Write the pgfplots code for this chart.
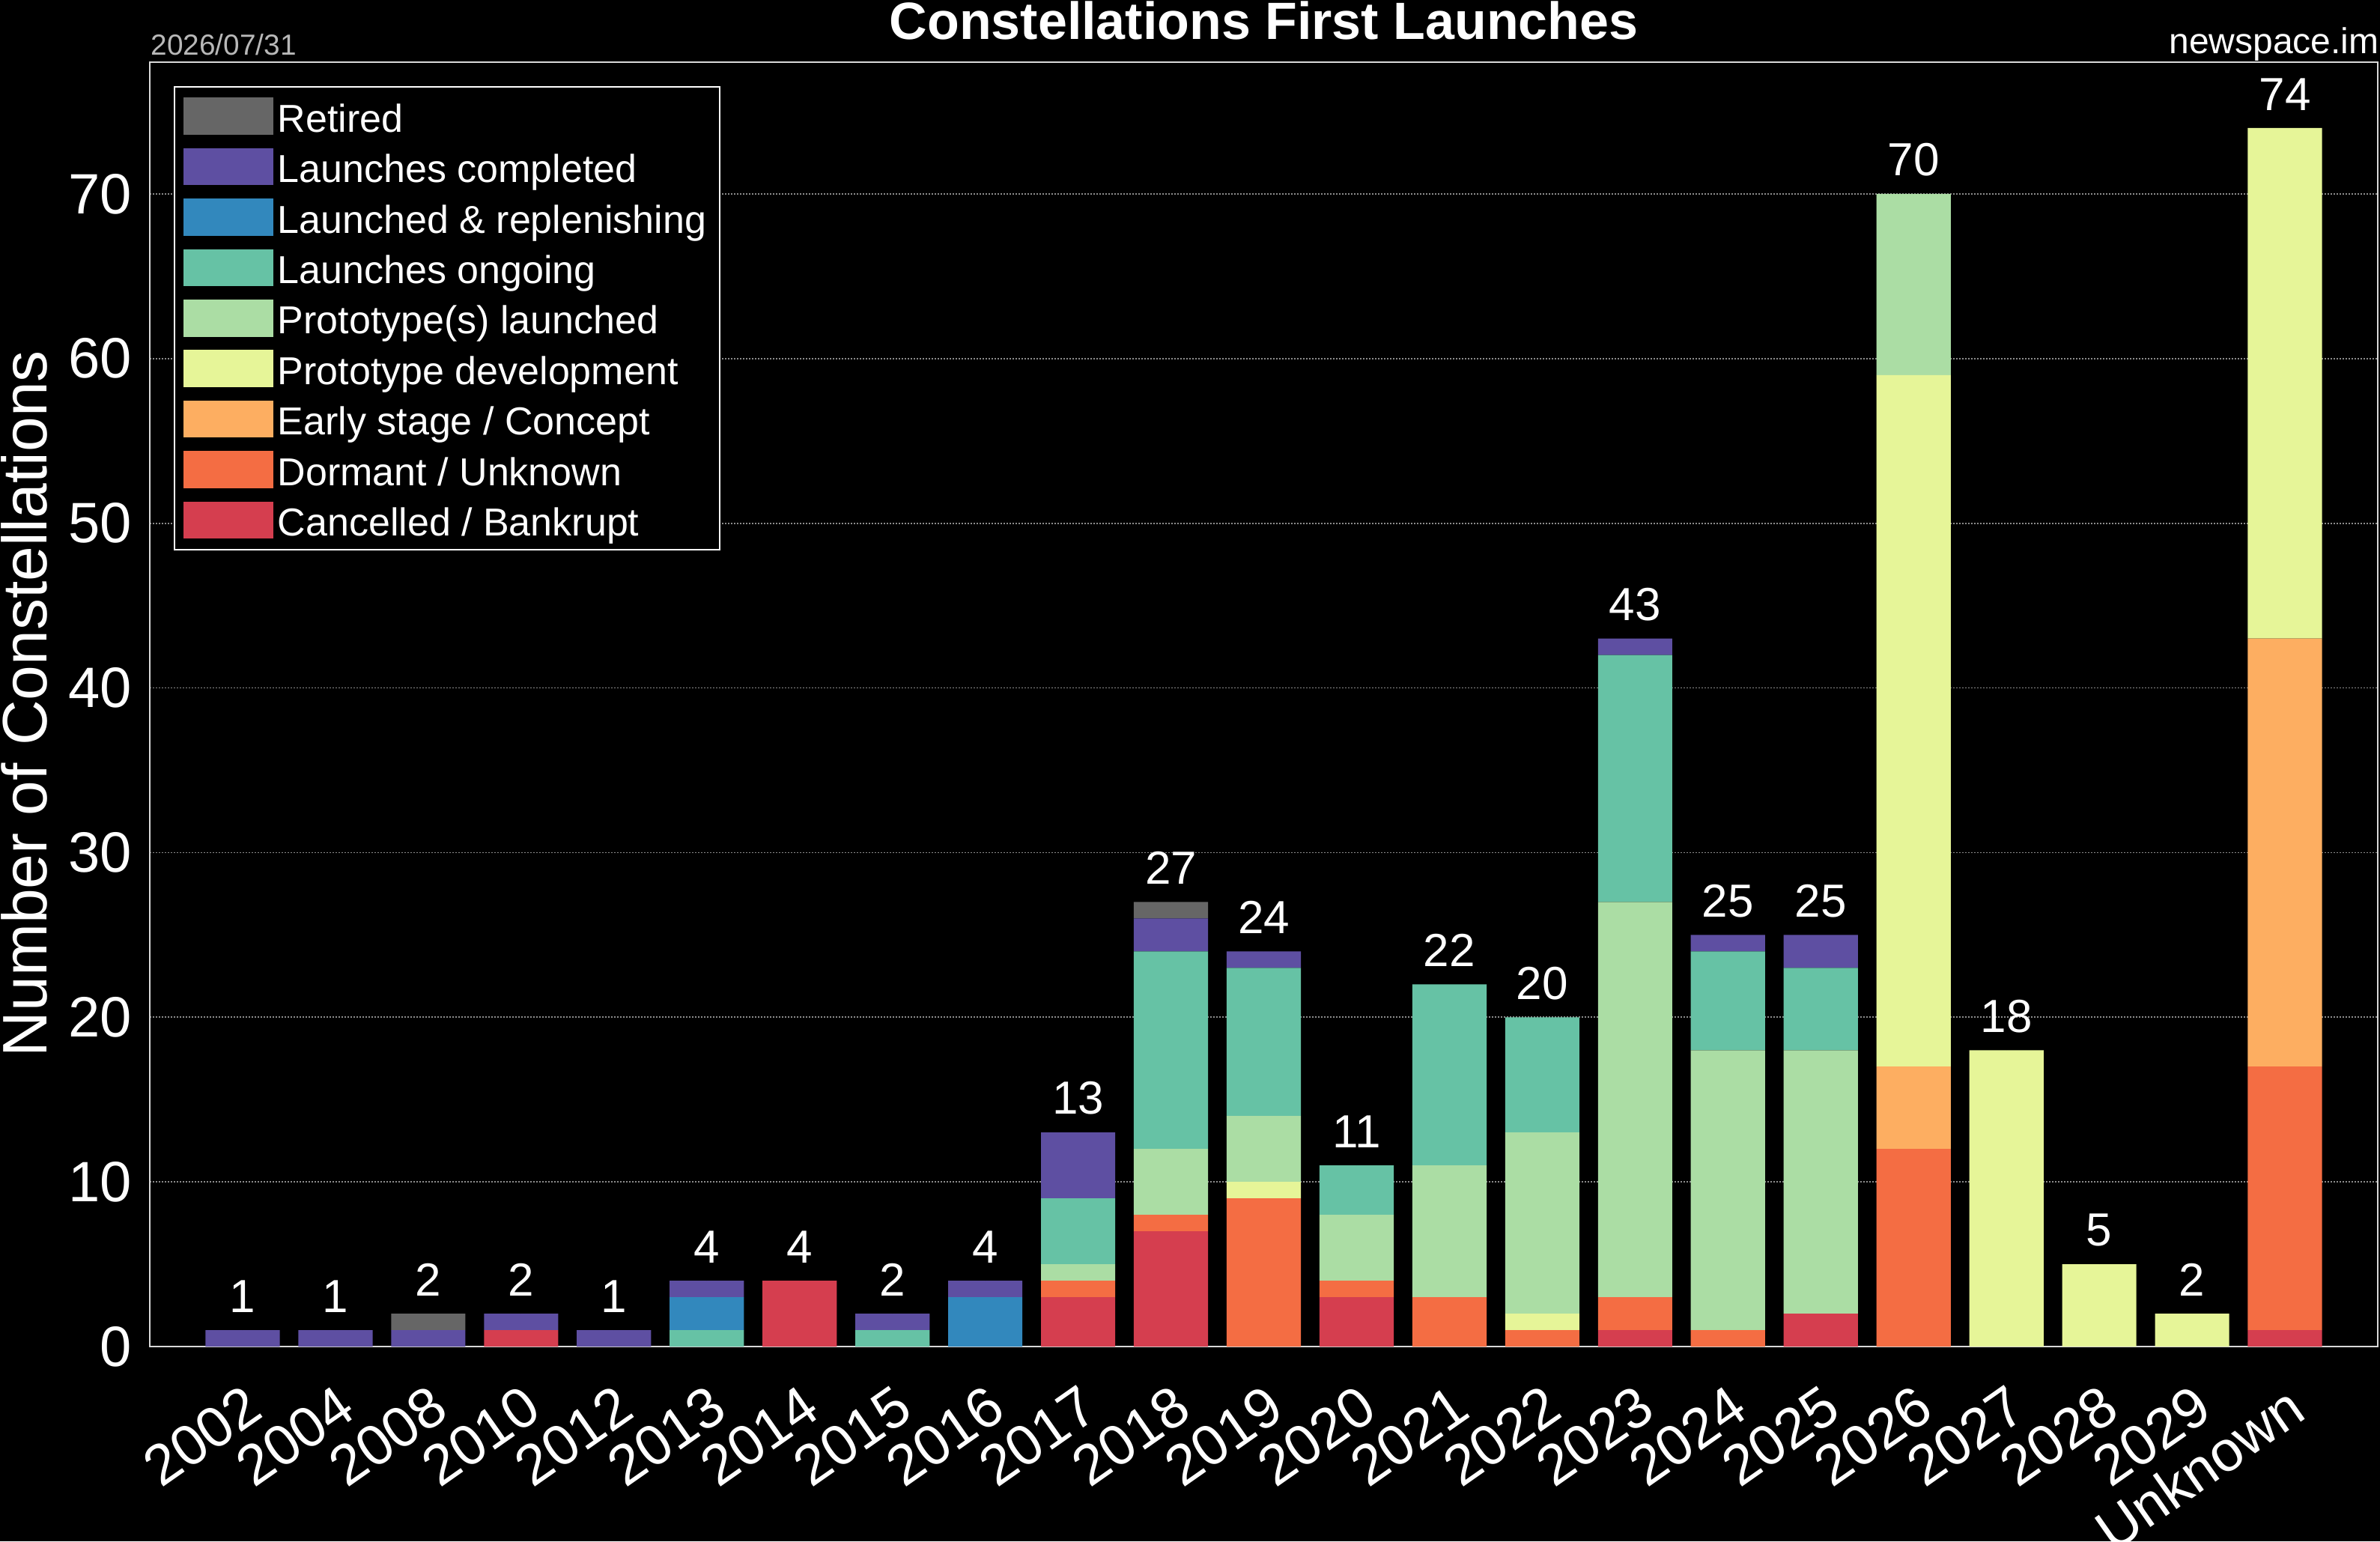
\documentclass[border=0pt]{standalone}
\usepackage{fontspec}
\setmainfont{Liberation Sans}
\usepackage{pgfplots}
\pgfplotsset{compat=1.18}
\usepackage{pgfplotstable}

\definecolor{cRet}{HTML}{666666}
\definecolor{cCom}{HTML}{5E4FA2}
\definecolor{cRep}{HTML}{3288BD}
\definecolor{cOng}{HTML}{66C2A5}
\definecolor{cPla}{HTML}{ABDDA4}
\definecolor{cPdv}{HTML}{E6F598}
\definecolor{cEar}{HTML}{FDAE61}
\definecolor{cDor}{HTML}{F46D43}
\definecolor{cCan}{HTML}{D53E4F}

\pgfplotstableread{
x  can dor ear pdv pla ong rep com ret tot
0  0   0   0   0   0   0   0   1   0   1
1  0   0   0   0   0   0   0   1   0   1
2  0   0   0   0   0   0   0   1   1   2
3  1   0   0   0   0   0   0   1   0   2
4  0   0   0   0   0   0   0   1   0   1
5  0   0   0   0   0   1   2   1   0   4
6  4   0   0   0   0   0   0   0   0   4
7  0   0   0   0   0   1   0   1   0   2
8  0   0   0   0   0   0   3   1   0   4
9  3   1   0   0   1   4   0   4   0   13
10 7   1   0   0   4   12  0   2   1   27
11 0   9   0   1   4   9   0   1   0   24
12 3   1   0   0   4   3   0   0   0   11
13 0   3   0   0   8   11  0   0   0   22
14 0   1   0   1   11  7   0   0   0   20
15 1   2   0   0   24  15  0   1   0   43
16 0   1   0   0   17  6   0   1   0   25
17 2   0   0   0   16  5   0   2   0   25
18 0   12  5   42  11  0   0   0   0   70
19 0   0   0   18  0   0   0   0   0   18
20 0   0   0   5   0   0   0   0   0   5
21 0   0   0   2   0   0   0   0   0   2
22 1   16  26  31  0   0   0   0   0   74
}\data

\begin{document}
\begin{tikzpicture}
\path[use as bounding box, fill=black] (-50pt,-65pt) rectangle (744.5pt,449.5pt);
\begin{axis}[
  at={(0pt,0pt)}, anchor=south west,
  scale only axis, width=743.75pt, height=428.75pt,
  ybar stacked, bar width=0.8,
  xmin=-1, xmax=23, ymin=0, ymax=78,
  xtick={0,...,22},
  xticklabels={2002,2004,2008,2010,2012,2013,2014,2015,2016,2017,2018,2019,2020,2021,2022,2023,2024,2025,2026,2027,2028,2029,Unknown},
  ytick={0,10,...,70},
  major tick length=0pt,
  /pgf/number format/assume math mode=true,
  axis line style={draw=white!85!black, line width=0.6pt},
  ymajorgrids,
  major grid style={draw=white!55!black, line width=0.45pt, dash pattern=on 0.45pt off 0.55pt},
  tick label style={font=\fontsize{19}{22}\selectfont, text=white, inner sep=0pt},
  yticklabel style={anchor=east, xshift=-5.75pt},
  xticklabel style={yshift=-12pt, rotate=35, anchor=north east},
  legend image code/.code={\fill[#1] (0pt,-6.2pt) rectangle (30pt,6.2pt);},
  reverse legend,
  legend cell align=left,
  legend style={at={(0,1)}, anchor=north west, xshift=8pt, yshift=-8pt,
    fill=black, draw=white, line width=0.4pt, text=white,
    font=\fontsize{13}{15}\selectfont,
    inner xsep=3pt, inner ysep=3.6pt, row sep=4.35pt,
    nodes={inner ysep=0pt, inner xsep=1.5pt, text height=11.5pt, text depth=1pt}},
]
\addplot[fill=cCan, draw=none] table[x=x, y=can] {\data};
\addlegendentry{Cancelled / Bankrupt}
\addplot[fill=cDor, draw=none] table[x=x, y=dor] {\data};
\addlegendentry{Dormant / Unknown}
\addplot[fill=cEar, draw=none] table[x=x, y=ear] {\data};
\addlegendentry{Early stage / Concept}
\addplot[fill=cPdv, draw=none] table[x=x, y=pdv] {\data};
\addlegendentry{Prototype development}
\addplot[fill=cPla, draw=none] table[x=x, y=pla] {\data};
\addlegendentry{Prototype(s) launched}
\addplot[fill=cOng, draw=none] table[x=x, y=ong] {\data};
\addlegendentry{Launches ongoing}
\addplot[fill=cRep, draw=none] table[x=x, y=rep] {\data};
\addlegendentry{Launched \& replenishing}
\addplot[fill=cCom, draw=none] table[x=x, y=com] {\data};
\addlegendentry{Launches completed}
\addplot[fill=cRet, draw=none] table[x=x, y=ret] {\data};
\addlegendentry{Retired}
\end{axis}
\begin{axis}[
  at={(0pt,0pt)}, anchor=south west,
  scale only axis, width=743.75pt, height=428.75pt,
  xmin=-1, xmax=23, ymin=0, ymax=78,
  hide axis, clip=false,
  /pgf/number format/assume math mode=true,
]
\addplot[only marks, mark=*, mark size=0pt, draw=none, fill=none,
  mark options={draw=none, fill=none},
  nodes near coords, point meta=explicit,
  every node near coord/.append style={font=\fontsize{15.5}{18}\selectfont, text=white, inner sep=0pt, anchor=south, yshift=5.7pt}]
  table[x=x, y=tot, meta=tot] {\data};
\end{axis}
\node[anchor=base, inner sep=0pt, text=white, font=\bfseries\fontsize{17.5}{20}\selectfont] at (371.9pt,436.25pt) {Constellations First Launches};
\node[anchor=base west, inner sep=0pt, text=white!72!black, font=\fontsize{9.7}{11}\selectfont] at (0.2pt,431.1pt) {2026/07/31};
\node[anchor=base east, inner sep=0pt, text=white, font=\fontsize{12}{14}\selectfont] at (744.3pt,431.5pt) {newspace.im};
\node[rotate=90, anchor=base, inner sep=0pt, text=white, font=\fontsize{21}{24}\selectfont] at (-34.25pt,214.6pt) {Number of Constellations};
\end{tikzpicture}
\end{document}
